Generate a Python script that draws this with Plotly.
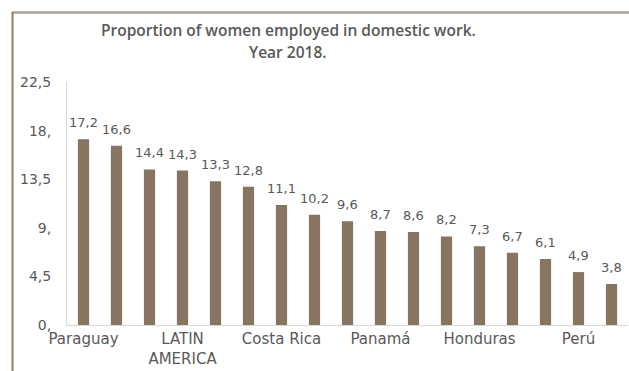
import plotly.graph_objects as go

values = [17.2, 16.6, 14.4, 14.3, 13.3, 12.8, 11.1, 10.2, 9.6, 8.7, 8.6, 8.2, 7.3, 6.7, 6.1, 4.9, 3.8]
shown_labels = ["Paraguay", "LATIN<br>AMERICA", "Costa Rica", "Panamá", "Honduras", "Perú"]
shown_positions = [0, 3, 6, 9, 12, 15]
y_tick_vals = [0, 4.5, 9, 13.5, 18, 22.5]
y_tick_text = ["0,", "4,5", "9,", "13,5", "18,", "22,5"]
title_lines = ["Proportion of women employed in domestic work.", "Year 2018."]

x = list(range(len(values)))
text = [f"{v:.1f}".replace(".", ",") for v in values]

FONT = "DejaVu Sans"
GREY = "#595959"
L, T, R, B = 67, 82, 628, 325
PW, PH = R - L, B - T

def px(xp):
    return (xp - L) / PW

def py(yp):
    return (B - yp) / PH

fig = go.Figure(go.Bar(
    x=x, y=values,
    marker=dict(color="#877561", line=dict(width=0)),
    hoverinfo="skip",
))

label_annotations = [
    dict(x=xi, y=v, xref="x", yref="y", text=t, showarrow=False,
         xanchor="center", yanchor="bottom", yshift=7,
         font=dict(family=FONT, size=13, color=GREY))
    for xi, v, t in zip(x, values, text)
]

fig.update_layout(
    width=629, height=371,
    margin=dict(l=L, r=629 - R, t=T, b=371 - B, autoexpand=False),
    paper_bgcolor="white", plot_bgcolor="white",
    bargap=0.66,
    showlegend=False,
    font=dict(family=FONT, color=GREY),
    xaxis=dict(
        range=[-0.5, len(values) - 0.5],
        tickvals=shown_positions, ticktext=shown_labels,
        tickfont=dict(family=FONT, size=15, color=GREY),
        showgrid=False, zeroline=False, showline=True,
        linecolor="#d9d9d9", linewidth=1, ticks="", automargin=False,
    ),
    yaxis=dict(
        range=[0, 22.5],
        tickvals=y_tick_vals, ticktext=y_tick_text,
        tickfont=dict(family=FONT, size=14, color=GREY),
        showgrid=False, zeroline=False, showline=True,
        linecolor="#d9d9d9", linewidth=1, ticks="",
        ticklabelstandoff=12, automargin=False,
    ),
    annotations=label_annotations + [
        dict(text=title_lines[0], xref="paper", yref="paper",
             x=px(288), y=py(30), xanchor="center", yanchor="middle",
             showarrow=False, font=dict(family="Open Sans", size=15.5, color=GREY, weight=600)),
        dict(text=title_lines[1], xref="paper", yref="paper",
             x=px(288), y=py(52), xanchor="center", yanchor="middle",
             showarrow=False, font=dict(family="Open Sans", size=15.5, color=GREY, weight=600)),
    ],
    shapes=[
        dict(type="line", xref="paper", yref="paper",
             x0=px(12), x1=px(640), y0=py(12.5), y1=py(12.5),
             line=dict(color="#aca297", width=2.5)),
        dict(type="line", xref="paper", yref="paper",
             x0=px(12.5), x1=px(12.5), y0=py(12), y1=py(400),
             line=dict(color="#8f7f6c", width=2)),
    ],
)

fig.write_html(
    "out.html",
    config={"displayModeBar": False},
    post_script="document.body.style.margin='0';document.body.style.overflow='hidden';",
)
